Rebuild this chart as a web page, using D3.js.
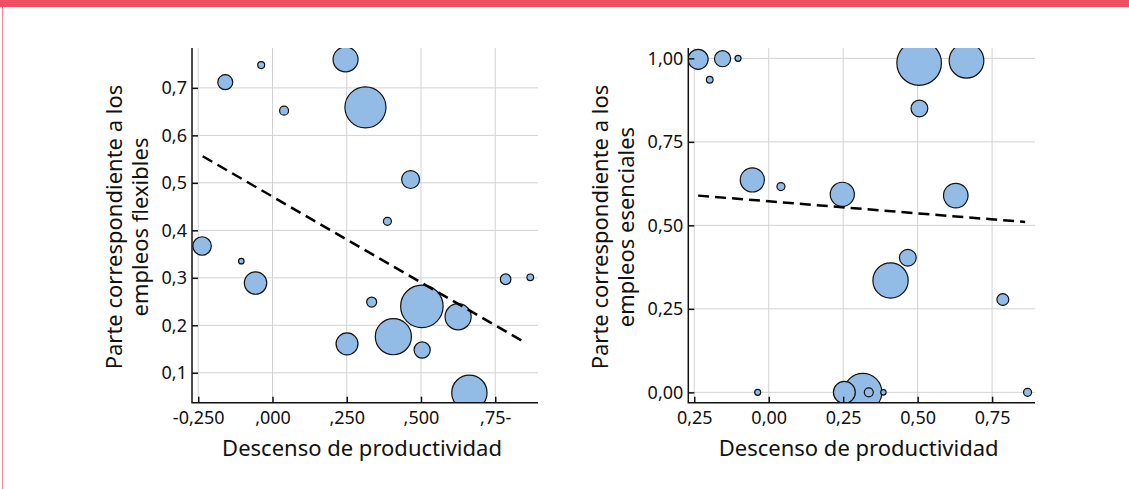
<!DOCTYPE html>
<html>
<head>
<meta charset="utf-8">
<script src="https://cdn.jsdelivr.net/npm/d3@7"></script>
<style>
  body { margin: 0; background: #fff; }
  svg { display: block; font-family: "Noto Sans", "Open Sans", sans-serif; }
</style>
</head>
<body>
<div id="vis"></div>
<script>
var W = 1129, H = 489;

// chart 1: flexibles
var flexX    = [-0.159, -0.038, 0.246, 0.039, 0.313, 0.465, 0.387, -0.237, -0.105, -0.057, 0.334, 0.503, 0.625, 0.407, 0.251, 0.504, 0.663, 0.785, 0.868];
var flexY    = [0.712, 0.748, 0.760, 0.652, 0.659, 0.507, 0.419, 0.367, 0.335, 0.289, 0.249, 0.240, 0.218, 0.176, 0.161, 0.148, 0.058, 0.297, 0.301];
var flexSize = [11.2, 2.4, 31, 4, 84, 16, 3.2, 17, 1.5, 25, 5, 90, 34, 65, 24, 13, 62, 5.6, 2.2];
var flexTrend = [[-0.235, 0.556], [0.855, 0.162]];
var flexXTicks = [-0.25, 0, 0.25, 0.5, 0.75];
var flexXLabels = ["-0,250", ",000", ",250", ",500", ",75-"];
var flexYTicks = [0.1, 0.2, 0.3, 0.4, 0.5, 0.6, 0.7];
var flexYLabels = ["0,1", "0,2", "0,3", "0,4", "0,5", "0,6", "0,7"];

// chart 2: esenciales
var escX    = [-0.237, -0.155, -0.103, -0.198, 0.505, 0.664, 0.506, -0.055, 0.041, 0.247, 0.628, 0.467, 0.409, 0.786, -0.037, 0.254, 0.316, 0.336, 0.385, 0.869];
var escY    = [0.997, 0.999, 1.0, 0.936, 0.986, 0.993, 0.850, 0.636, 0.616, 0.593, 0.589, 0.403, 0.335, 0.278, 0, 0, 0, 0, 0, 0];
var escSize = [20, 13, 1.8, 2.2, 99, 60, 14, 29, 3.2, 29, 30, 14, 62, 7, 1.8, 24, 72, 4, 1.5, 3.2];
var escTrend = [[-0.237, 0.589], [0.861, 0.510]];
var escXTicks = [-0.25, 0, 0.25, 0.5, 0.75];
var escXLabels = ["0,25", "0,00", "0,25", "0,50", "0,75"];
var escYTicks = [0, 0.25, 0.5, 0.75, 1];
var escYLabels = ["0,00", "0,25", "0,50", "0,75", "1,00"];

var svg = d3.select("#vis").append("svg")
    .attr("width", W)
    .attr("height", H);

// frame
svg.append("rect").attr("x", 0).attr("y", 0).attr("width", W).attr("height", 7).attr("fill", "#ee4f63");
svg.append("line").attr("x1", 2.5).attr("x2", 2.5).attr("y1", 7).attr("y2", H)
    .attr("stroke", "#f08896").attr("stroke-width", 1);

var r = d3.scaleSqrt().domain([0, 100]).range([0, 22.4]);

var drawChart = function(o) {
    var x = d3.scaleLinear().domain(o.xDomain).range([o.left, o.right]);
    var y = d3.scaleLinear().domain(o.yDomain).range([o.bottom, o.top]);
    var g = svg.append("g");

    // grid
    g.selectAll("line.gx").data(o.xTicks).enter().append("line")
        .attr("x1", function(d){ return x(d); }).attr("x2", function(d){ return x(d); })
        .attr("y1", o.top).attr("y2", o.bottom)
        .style("stroke", "#d2d2d2").style("stroke-width", 1);
    g.selectAll("line.gy").data(o.yTicks).enter().append("line")
        .attr("x1", o.left).attr("x2", o.right)
        .attr("y1", function(d){ return y(d); }).attr("y2", function(d){ return y(d); })
        .style("stroke", "#d2d2d2").style("stroke-width", 1);

    var clipId = "clip" + o.id;
    svg.append("clipPath").attr("id", clipId).append("rect")
        .attr("x", o.left).attr("y", o.top)
        .attr("width", o.right - o.left).attr("height", o.bottom - o.top);

    var pts = o.xs.map(function(d, i){ return [d, o.ys[i], o.sizes[i]]; });
    pts.sort(function(a, b){ return b[2] - a[2]; });

    g.append("g").attr("clip-path", "url(#" + clipId + ")")
      .selectAll("circle").data(pts).enter().append("circle")
        .attr("cx", function(d){ return x(d[0]); })
        .attr("cy", function(d){ return y(d[1]); })
        .attr("r", function(d){ return r(d[2]); })
        .style("fill", "#92bce6")
        .style("stroke", "#111")
        .style("stroke-width", 1.2);

    // trend
    g.append("path")
        .attr("d", d3.line().x(function(d){ return x(d[0]); }).y(function(d){ return y(d[1]); })(o.trend))
        .style("fill", "none").style("stroke", "#000")
        .style("stroke-width", 2.5).style("stroke-dasharray", "11,6");

    // axes (ticks inward)
    var xa = d3.axisBottom(x).tickValues(o.xTicks).tickSize(-6).tickPadding(9)
        .tickFormat(function(d, i){ return o.xLabels[i]; });
    var ya = d3.axisLeft(y).tickValues(o.yTicks).tickSize(-6).tickPadding(5)
        .tickFormat(function(d, i){ return o.yLabels[i]; });

    var gx = g.append("g").attr("transform", "translate(0," + o.bottom + ")").call(xa);
    var gy = g.append("g").attr("transform", "translate(" + o.left + ",0)").call(ya);
    [gx, gy].forEach(function(a){
        a.select(".domain").remove();
        a.selectAll(".tick line").style("stroke", "#111").style("stroke-width", 1.5);
        a.selectAll(".tick text").style("font-size", "18px").style("fill", "#111")
            .style("font-family", "'Noto Sans', sans-serif");
    });
    g.append("path")
        .attr("d", "M" + o.left + "," + o.top + "V" + o.bottom + "H" + o.right)
        .style("fill", "none").style("stroke", "#111").style("stroke-width", 1.5);

    // titles
    g.append("text")
        .attr("x", (o.left + o.right) / 2 - 3).attr("y", o.bottom + 53)
        .attr("text-anchor", "middle")
        .style("font-size", "22px").style("fill", "#111")
        .text("Descenso de productividad");
    var yt = g.append("text")
        .attr("transform", "translate(" + (o.left - o.titleOff) + "," + 227 + ") rotate(-90)")
        .attr("text-anchor", "middle")
        .style("font-size", "22px").style("fill", "#111");
    yt.append("tspan").attr("x", 0).attr("dy", 0).text("Parte correspondiente a los");
    yt.append("tspan").attr("x", 0).attr("dy", 26).text(o.yTitle2);
};

drawChart({
    id: 1, left: 192, right: 538, top: 48, bottom: 402.7, titleOff: 70,
    xDomain: [-0.271, 0.894], yDomain: [0.037, 0.784],
    xs: flexX, ys: flexY, sizes: flexSize, trend: flexTrend,
    xTicks: flexXTicks, xLabels: flexXLabels, yTicks: flexYTicks, yLabels: flexYLabels,
    yTitle2: "empleos flexibles"
});

drawChart({
    id: 2, left: 688.3, right: 1035, top: 48, bottom: 402.7, titleOff: 80,
    xDomain: [-0.27, 0.894], yDomain: [-0.031, 1.031],
    xs: escX, ys: escY, sizes: escSize, trend: escTrend,
    xTicks: escXTicks, xLabels: escXLabels, yTicks: escYTicks, yLabels: escYLabels,
    yTitle2: "empleos esenciales"
});
</script>
</body>
</html>
